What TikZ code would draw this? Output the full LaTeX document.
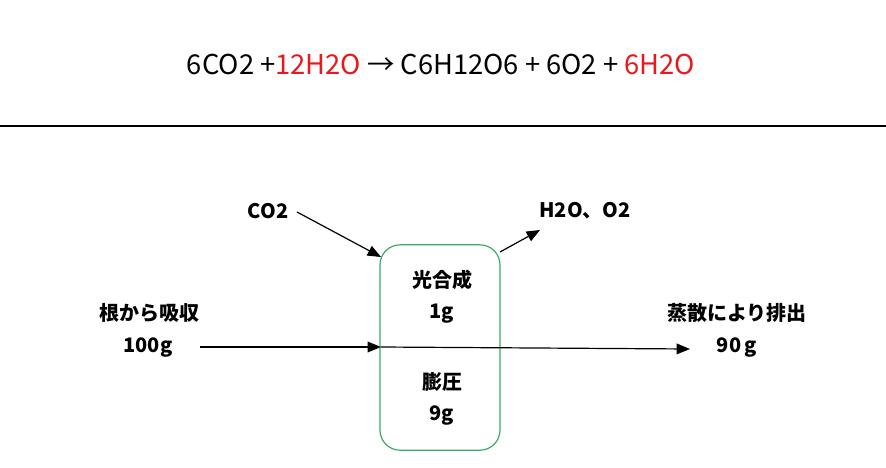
\documentclass[tikz,border=0pt]{standalone}
\usepackage{fontspec}
\setmainfont{Noto Sans CJK JP}
\usetikzlibrary{arrows.meta}
\definecolor{boxgreen}{HTML}{3AAA6A}
\definecolor{eqred}{HTML}{E8191C}
\begin{document}
\begin{tikzpicture}[x=0.75pt,y=-0.75pt,
  lbl/.style={font=\fontsize{15}{18}\selectfont\bfseries, inner sep=0pt},
  arr/.style={-{Triangle[length=10pt,width=8pt]}, line width=0.9pt},
  flowbox/.style={draw=boxgreen, line width=0.9pt, rounded corners=15pt, minimum width=90pt, minimum height=154pt, inner sep=0pt}]
\useasboundingbox (0,0) rectangle (886,468);
\node[inner sep=0pt, font=\fontsize{20.5}{24}\selectfont] (eq) at (441,64)
  {6CO2 +\textcolor{eqred}{12H2O} → C6H12O6 + 6O2 + \textcolor{eqred}{6H2O}};
\coordinate (hl) at (0,126);
\coordinate (hr) at (886,126);
\draw[line width=1.4pt] (hl) -- (hr);
\node[flowbox] (box) at (440,347.5) {};
\node[lbl] (co2) at (268,211) {CO2};
\node[lbl] (out) at (585,211) {H2O、O2};
\node[lbl] (root) at (149,313) {根から吸収};
\node[lbl] (g100) at (148,347) {100g};
\node[lbl] (photo) at (442,280) {光合成};
\node[lbl] (g1) at (442,314) {1g};
\node[lbl] (turg) at (442,382) {膨圧};
\node[lbl] (g9) at (442,415) {9g};
\node[lbl] (evap) at (737,313) {蒸散により排出};
\node[lbl] (g90) at (737,347) {90\,g};
\coordinate (co2s) at (297,212);
\coordinate (co2e) at (381,257);
\coordinate (outs) at (500,252);
\coordinate (oute) at (540,230);
\coordinate (ins) at (200,347);
\coordinate (ine) at (381,347);
\coordinate (rte) at (690,349);
\draw[arr] (co2s) -- (co2e);
\draw[arr] (outs) -- (oute);
\draw[arr] (ins) -- (ine);
\draw[arr] (ine) -- (rte);
\end{tikzpicture}
\end{document}
